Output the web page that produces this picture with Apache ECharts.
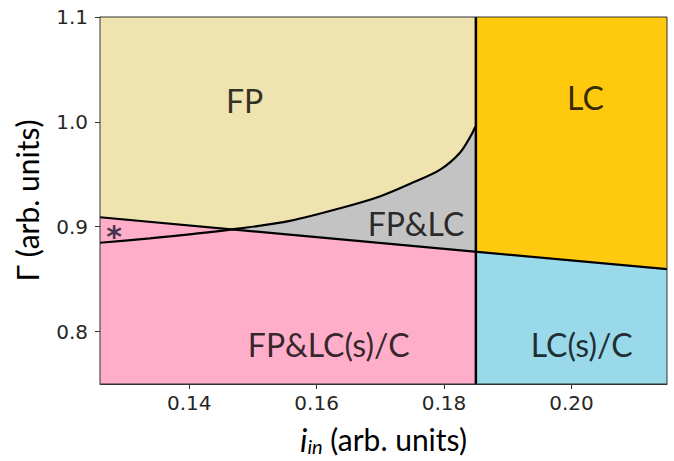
<!DOCTYPE html>
<html>
<head>
<meta charset="utf-8">
<script src="https://cdn.jsdelivr.net/npm/echarts@6/dist/echarts.min.js"></script>
<style>html,body{margin:0;padding:0;background:#fff}#c{width:674px;height:461px}</style>
</head>
<body>
<div id="c"></div>
<script>
// ---- data ----
const xRange = [0.126, 0.215];
const yRange = [0.75, 1.1];
const xTicks = [0.14, 0.16, 0.18, 0.20];
const yTicks = [0.8, 0.9, 1.0, 1.1];
const boundaryX = 0.185;               // vertical LC boundary
const lineX = [0.126, 0.215];          // decreasing straight boundary
const lineY = [0.909, 0.8595];
const curveX = [0.126, 0.1338, 0.1401, 0.1480, 0.1558, 0.1647, 0.1699, 0.1751, 0.1794, 0.1825, 0.1843, 0.1849];
const curveY = [0.8847, 0.8889, 0.8927, 0.8984, 0.9056, 0.9193, 0.9288, 0.9421, 0.9545, 0.9706, 0.9877, 0.9953];
const regionNames = ['FP', 'FP&LC', 'FP&LC(s)/C', 'LC', 'LC(s)/C'];
const regionColors = ['#EFE4B0', '#C3C3C3', '#FFAEC9', '#FFC90E', '#99D9EA'];
const labelNames = ['FP', 'LC', 'FP&LC', 'FP&LC(s)/C', 'LC(s)/C', '*'];
const labelX = [0.1487, 0.2022, 0.1756, 0.1619, 0.2016, 0.1282];
const labelY = [1.020, 1.0228, 0.9032, 0.7874, 0.7874, 0.8975];

// ---- derived geometry ----
function lineAt(x) {
  return lineY[0] + (lineY[1] - lineY[0]) * (x - lineX[0]) / (lineX[1] - lineX[0]);
}
const xa = xRange[0], xb = xRange[1], ya = yRange[0], yb = yRange[1];
const lineB = lineAt(boundaryX);
const curvePts = curveX.map((x, i) => [x, curveY[i]]);
const polygons = [
  [[xa, ya], [boundaryX, ya], [boundaryX, yb], [xa, yb]],                       // FP (beige)
  curvePts.concat([[boundaryX, curveY[curveY.length - 1]], [boundaryX, lineB], [xa, lineY[0]]]), // FP&LC
  [[xa, ya], [boundaryX, ya], [boundaryX, lineB], [xa, lineY[0]]],              // pink
  [[boundaryX, ya], [xb, ya], [xb, yb], [boundaryX, yb]],                       // LC
  [[boundaryX, ya], [xb, ya], [xb, lineY[1]], [boundaryX, lineB]]               // LC(s)/C
];

const chart = echarts.init(document.getElementById('c'), null, { renderer: 'svg' });
const font = 'Lato';
chart.setOption({
  animation: false,
  grid: { left: 100, right: 7, top: 17, bottom: 76, show: true, borderColor: '#333', borderWidth: 1, z: 10 },
  xAxis: {
    type: 'value', min: xRange[0], max: xRange[1],
    axisLine: { show: true, onZero: false, lineStyle: { color: '#333', width: 1 } },
    axisTick: { show: true, customValues: xTicks, length: 5, lineStyle: { color: '#333' } },
    axisLabel: { customValues: xTicks, formatter: v => v.toFixed(2), fontSize: 20, color: '#262626', fontFamily: 'DejaVu Sans', margin: 9 },
    splitLine: { show: false },
    name: '{i|i}{sub|in}{t| (arb. units)}', nameLocation: 'middle', nameGap: 38,
    nameTextStyle: {
      rich: {
        i: { fontSize: 32, fontStyle: 'italic', fontFamily: font, color: '#000' },
        sub: { fontSize: 20, fontStyle: 'italic', fontFamily: font, color: '#000', verticalAlign: 'bottom', padding: [14, 0, 0, 0] },
        t: { fontSize: 30, fontFamily: font, color: '#000' }
      }
    }
  },
  yAxis: {
    type: 'value', min: yRange[0], max: yRange[1],
    axisLine: { show: true, onZero: false, lineStyle: { color: '#333', width: 1 } },
    axisTick: { show: true, customValues: yTicks, length: 5, lineStyle: { color: '#333' } },
    axisLabel: { customValues: yTicks, formatter: v => v.toFixed(1), fontSize: 20, color: '#262626', fontFamily: 'DejaVu Sans', margin: 12 },
    splitLine: { show: false },
    name: 'Γ (arb. units)', nameLocation: 'middle', nameRotate: 90, nameGap: 58,
    nameTextStyle: { fontSize: 30, fontFamily: font, color: '#000' }
  },
  series: [
    {
      type: 'custom', silent: true, z: 1,
      data: regionNames.map((n, i) => ({ name: n, value: i })),
      renderItem: function (params, api) {
        const i = params.dataIndex;
        return {
          type: 'polygon',
          shape: { points: polygons[i].map(p => api.coord(p)) },
          style: { fill: regionColors[i], stroke: null }
        };
      }
    },
    {
      type: 'line', z: 3, silent: true, symbol: 'none',
      data: lineX.map((x, i) => [x, lineY[i]]),
      lineStyle: { color: '#000', width: 2.2 }
    },
    {
      type: 'line', z: 3, silent: true, symbol: 'none', smooth: 0.3,
      data: curvePts,
      lineStyle: { color: '#000', width: 2.2 }
    },
    {
      type: 'line', z: 3, silent: true, symbol: 'none',
      data: [[boundaryX, ya], [boundaryX, yb]],
      lineStyle: { color: '#000', width: 2.5 }
    },
    {
      type: 'scatter', z: 5, silent: true, symbolSize: 0,
      data: labelNames.map((n, i) => ({
        name: n, value: [labelX[i], labelY[i]],
        label: n === '*' ? { fontSize: 30, fontFamily: 'DejaVu Sans', fontWeight: 'bold', color: '#101030', offset: [0, 7] } : {}
      })),
      label: { show: true, position: 'inside', formatter: '{b}', fontSize: 32, fontFamily: font, color: '#000' }
    }
  ]
});
</script>
</body>
</html>
